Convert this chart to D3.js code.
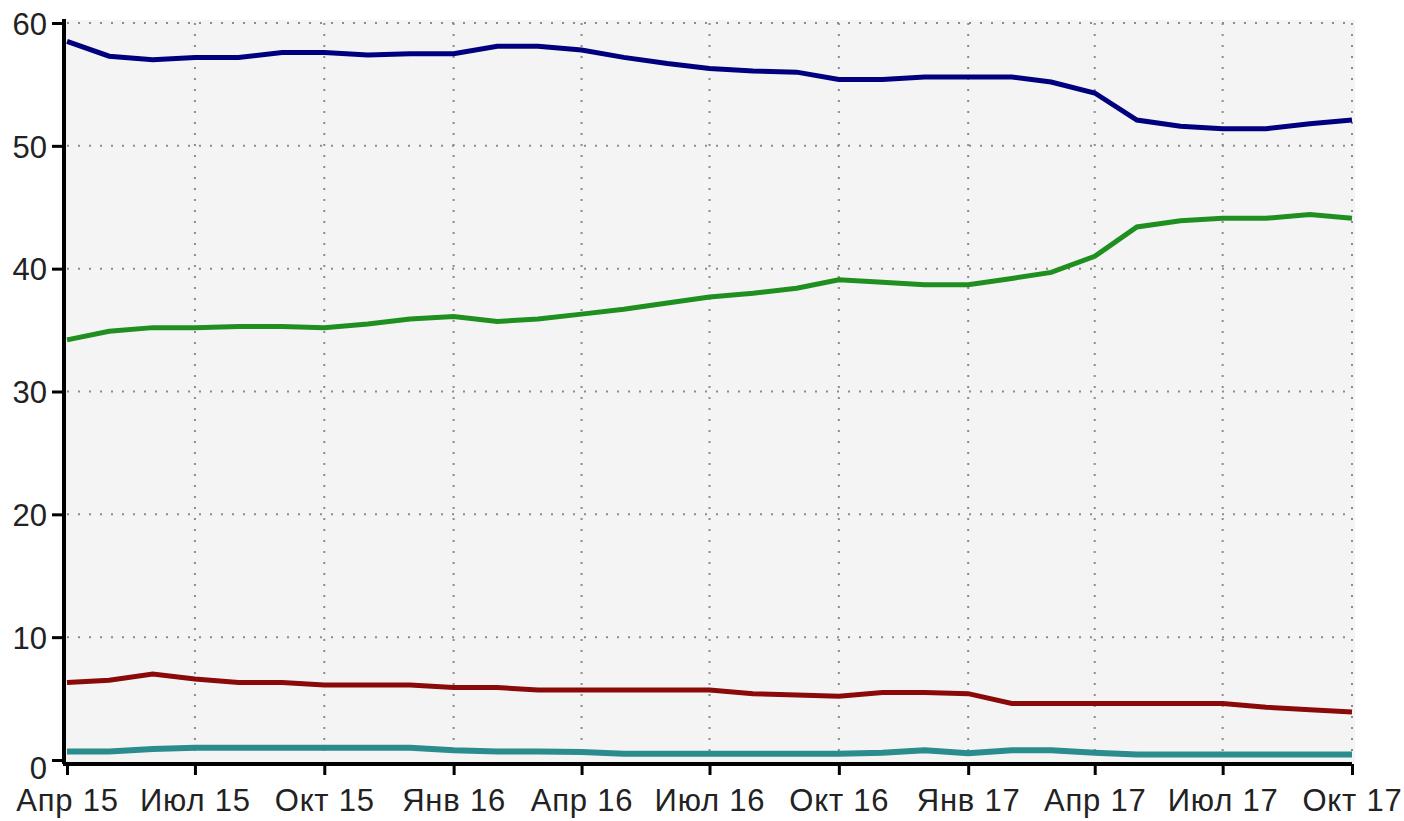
<!DOCTYPE html>
<html>
<head>
<meta charset="utf-8">
<script src="https://cdn.jsdelivr.net/npm/d3@7"></script>
<style>
  body { margin: 0; background: #fff; }
  text { font-family: "Liberation Sans", Arial, sans-serif; }
</style>
</head>
<body>
<script>
// monthly points, Apr 2015 .. Oct 2017
var months = ["2015-04","2015-05","2015-06","2015-07","2015-08","2015-09","2015-10","2015-11","2015-12",
  "2016-01","2016-02","2016-03","2016-04","2016-05","2016-06","2016-07","2016-08","2016-09","2016-10","2016-11","2016-12",
  "2017-01","2017-02","2017-03","2017-04","2017-05","2017-06","2017-07","2017-08","2017-09","2017-10"];

var blueSeries = [58.5, 57.3, 57.0, 57.2, 57.2, 57.6, 57.6, 57.4, 57.5,
  57.5, 58.1, 58.1, 57.8, 57.2, 56.7, 56.3, 56.1, 56.0, 55.4, 55.4, 55.6,
  55.6, 55.6, 55.2, 54.3, 52.1, 51.6, 51.4, 51.4, 51.8, 52.1];
var greenSeries = [34.2, 34.9, 35.2, 35.2, 35.3, 35.3, 35.2, 35.5, 35.9,
  36.1, 35.7, 35.9, 36.3, 36.7, 37.2, 37.7, 38.0, 38.4, 39.1, 38.9, 38.7,
  38.7, 39.2, 39.7, 41.0, 43.4, 43.9, 44.1, 44.1, 44.4, 44.1];
var redSeries = [6.3, 6.5, 7.0, 6.6, 6.3, 6.3, 6.1, 6.1, 6.1,
  5.9, 5.9, 5.7, 5.7, 5.7, 5.7, 5.7, 5.4, 5.3, 5.2, 5.5, 5.5,
  5.4, 4.6, 4.6, 4.6, 4.6, 4.6, 4.6, 4.3, 4.1, 3.9];
var tealSeries = [0.7, 0.7, 0.9, 1.0, 1.0, 1.0, 1.0, 1.0, 1.0,
  0.8, 0.7, 0.7, 0.65, 0.5, 0.5, 0.5, 0.5, 0.5, 0.5, 0.6, 0.8,
  0.55, 0.8, 0.8, 0.6, 0.45, 0.45, 0.45, 0.45, 0.45, 0.45];

var yTicks = [0, 10, 20, 30, 40, 50, 60];
var tickMonths = ["2015-04","2015-07","2015-10","2016-01","2016-04","2016-07","2016-10","2017-01","2017-04","2017-07","2017-10"];
var tickLabels = ["Апр 15","Июл 15","Окт 15","Янв 16","Апр 16","Июл 16","Окт 16","Янв 17","Апр 17","Июл 17","Окт 17"];

var series = [
  { values: blueSeries, color: "#00007f", w: 5 },
  { values: greenSeries, color: "#1f8f1f", w: 5 },
  { values: redSeries, color: "#8a0a0a", w: 5 },
  { values: tealSeries, color: "#2a8c8c", w: 6 }
];

var width = 1404, height = 821;
var plotLeft = 67, plotRight = 1352, plotTop = 23, plotBottom = 760;

var parse = d3.timeParse("%Y-%m");
var dates = months.map(parse);

var svg = d3.select("body").append("svg")
  .attr("width", width)
  .attr("height", height);

var x = d3.scaleTime()
  .domain(d3.extent(dates))
  .range([plotLeft, plotRight]);

var y = d3.scaleLinear()
  .domain([0, 60])
  .range([plotBottom, plotTop]);

// plot background
svg.append("rect")
  .attr("x", plotLeft - 3)
  .attr("y", plotTop - 3)
  .attr("width", plotRight - plotLeft + 6)
  .attr("height", plotBottom - plotTop + 6)
  .attr("fill", "#f4f4f4");

// dotted grid
svg.append("g").selectAll("line")
  .data(yTicks.filter(function(d){ return d > 0; }))
  .enter().append("line")
  .attr("x1", plotLeft).attr("x2", plotRight)
  .attr("y1", function(d){ return y(d); })
  .attr("y2", function(d){ return y(d); })
  .attr("stroke", "#8c8c8c")
  .attr("stroke-width", 2)
  .attr("stroke-dasharray", "2,9");

svg.append("g").selectAll("line")
  .data(tickMonths.slice(1).map(parse))
  .enter().append("line")
  .attr("y1", plotTop).attr("y2", plotBottom)
  .attr("x1", function(d){ return x(d); })
  .attr("x2", function(d){ return x(d); })
  .attr("stroke", "#8c8c8c")
  .attr("stroke-width", 2)
  .attr("stroke-dasharray", "2,9");

// lines
var line = d3.line()
  .x(function(d, i){ return x(dates[i]); })
  .y(function(d){ return y(d); });

svg.append("g").selectAll("path")
  .data(series)
  .enter().append("path")
  .attr("d", function(s){ return line(s.values); })
  .attr("fill", "none")
  .attr("stroke", function(s){ return s.color; })
  .attr("stroke-width", function(s){ return s.w; });

// axes
var yAxis = d3.axisLeft(y)
  .tickValues(yTicks)
  .tickSize(12)
  .tickPadding(5);

var gy = svg.append("g")
  .attr("transform", "translate(" + (plotLeft - 3) + ",0)")
  .call(yAxis);

var xAxis = d3.axisBottom(x)
  .tickValues(tickMonths.map(parse))
  .tickFormat(function(d, i){ return tickLabels[i]; })
  .tickSize(11)
  .tickPadding(14);

var gx = svg.append("g")
  .attr("transform", "translate(0," + (plotBottom + 4) + ")")
  .call(xAxis);

gx.select(".domain").attr("d", "M" + (plotLeft - 4) + ",0H" + plotRight)
  .attr("stroke", "#000").attr("stroke-width", 4);
gy.select(".domain").attr("d", "M0," + (plotTop - 4) + "V" + (plotBottom + 4))
  .attr("stroke", "#000").attr("stroke-width", 4);

svg.selectAll(".tick line").attr("stroke", "#000").attr("stroke-width", 3);
svg.selectAll(".tick text")
  .attr("fill", "#222")
  .style("font-size", "31px");
gx.selectAll(".tick text").style("letter-spacing", "0.8px");
gy.selectAll(".tick text").attr("dy", "0.36em");
gy.selectAll(".tick").filter(function(d){ return d === 0; })
  .select("text").attr("dy", "0.6em");
</script>
</body>
</html>
